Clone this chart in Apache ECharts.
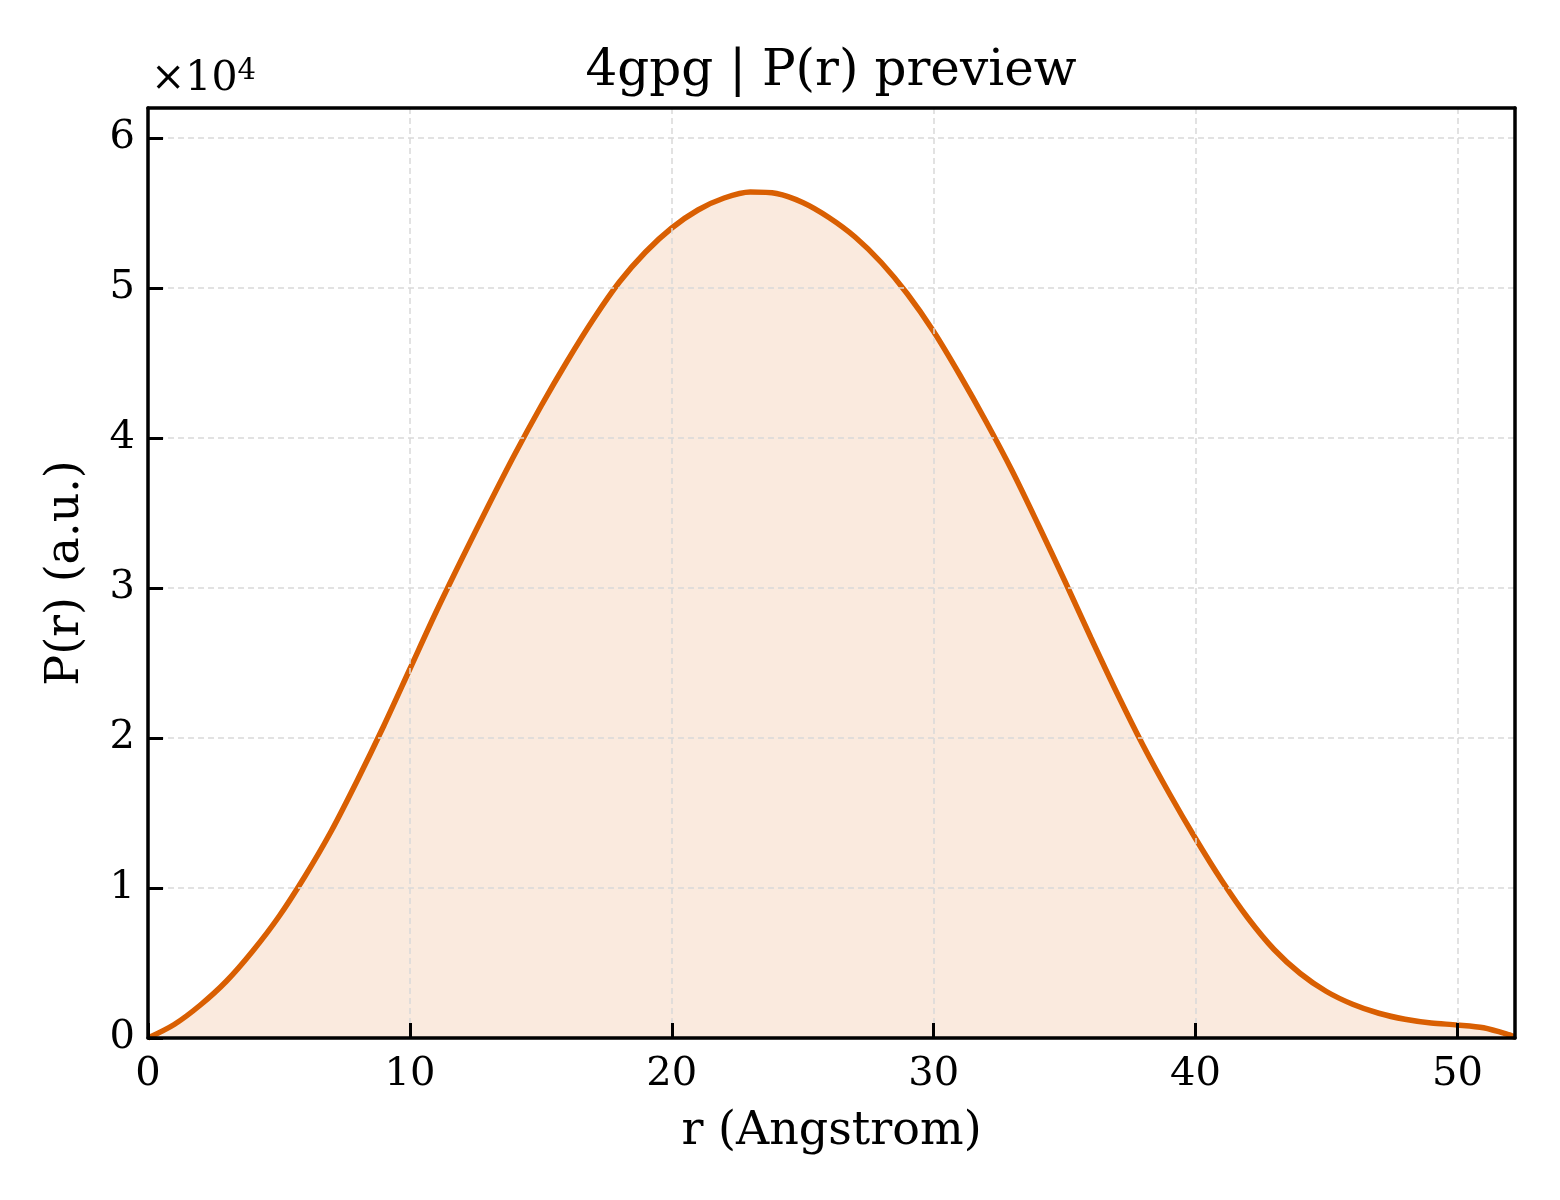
<!DOCTYPE html>
<html lang="en">
<head>
    <meta charset="UTF-8">
    <title>4gpg | P(r) preview</title>
    <style>
        body { margin: 0; padding: 0; background: #fff; }
        #chart { width: 1560px; height: 1200px; }
    </style>
    <script src="https://cdn.jsdelivr.net/npm/echarts@6/dist/echarts.min.js"></script>
</head>
<body>
    <div id="chart"></div>
    <script>
        // r in Angstrom
        const rValues = [
            0, 1, 2, 3, 4, 5, 6, 7, 8, 9,
            10, 11, 12, 13, 14, 15, 16, 17, 18, 19,
            20, 21, 22, 23, 24, 25, 26, 27, 28, 29,
            30, 31, 32, 33, 34, 35, 36, 37, 38, 39,
            40, 41, 42, 43, 44, 45, 46, 47, 48, 49,
            50, 51, 52, 52.2
        ];
        // P(r), arbitrary units
        const pValues = [
            0, 900, 2200, 3800, 5800, 8100, 10800, 13800, 17200, 20800,
            24600, 28400, 32000, 35500, 38900, 42100, 45100, 47900, 50400, 52400,
            54000, 55200, 56000, 56400, 56300, 55700, 54700, 53400, 51700, 49600,
            47100, 44200, 41100, 37800, 34200, 30500, 26700, 23000, 19500, 16300,
            13300, 10500, 8000, 5900, 4300, 3100, 2250, 1650, 1250, 1000,
            870, 680, 200, 50
        ];
        const xTicks = [0, 10, 20, 30, 40, 50];
        const yTicks = [0, 10000, 20000, 30000, 40000, 50000, 60000];

        const serif = '"DejaVu Serif", serif';
        const lineColor = '#d95f02';
        const gridDash = { color: '#d9d9d9', width: 1.5, type: [6, 4] };
        const frame = { show: true, onZero: false, lineStyle: { color: '#000', width: 3.5 } };
        const tickStyle = { show: true, inside: true, length: 15, lineStyle: { color: '#000', width: 3 } };

        const chart = echarts.init(document.getElementById('chart'));

        const points = rValues.map((r, i) => [r, pValues[i]]);

        const option = {
            backgroundColor: '#fff',
            animation: false,
            title: [
                {
                    text: '4gpg | P(r) preview',
                    left: 831,
                    textAlign: 'center',
                    top: 47,
                    padding: 0,
                    textStyle: { fontFamily: serif, fontSize: 50, fontWeight: 'normal', color: '#000' }
                },
                {
                    text: '{a|×10}{b|4}',
                    left: 151,
                    top: 57,
                    padding: 0,
                    textStyle: {
                        fontWeight: 'normal',
                        rich: {
                            a: { fontFamily: serif, fontSize: 41, fontWeight: 'normal', color: '#000', lineHeight: 44 },
                            b: { fontFamily: serif, fontSize: 29, fontWeight: 'normal', color: '#000', verticalAlign: 'top', lineHeight: 29 }
                        }
                    }
                }
            ],
            grid: {
                left: 148,
                right: 45,
                top: 108,
                bottom: 162,
                show: false
            },
            xAxis: [
                {
                    type: 'value',
                    position: 'bottom',
                    min: 0,
                    max: 52.2,
                    interval: 10,
                    name: 'r (Angstrom)',
                    nameLocation: 'middle',
                    nameGap: 71,
                    nameTextStyle: { fontFamily: serif, fontSize: 46, color: '#000' },
                    axisLine: frame,
                    axisTick: tickStyle,
                    axisLabel: {
                        showMaxLabel: false,
                        margin: 17,
                        fontFamily: serif,
                        fontSize: 40,
                        color: '#000',
                        formatter: v => xTicks.includes(v) ? String(v) : ''
                    },
                    splitLine: { show: true, showMinLine: false, showMaxLine: false, lineStyle: gridDash },
                    z: 5
                },
                {
                    type: 'value',
                    position: 'top',
                    min: 0,
                    max: 52.2,
                    axisLine: frame,
                    axisTick: { show: false },
                    axisLabel: { show: false },
                    splitLine: { show: false },
                    z: 5
                }
            ],
            yAxis: [
                {
                    type: 'value',
                    position: 'left',
                    min: 0,
                    max: 62000,
                    interval: 10000,
                    name: 'P(r) (a.u.)',
                    nameLocation: 'middle',
                    nameGap: 59,
                    nameRotate: 90,
                    nameTextStyle: { fontFamily: serif, fontSize: 46, color: '#000' },
                    axisLine: frame,
                    axisTick: tickStyle,
                    axisLabel: {
                        showMaxLabel: false,
                        margin: 13,
                        fontFamily: serif,
                        fontSize: 40,
                        color: '#000',
                        formatter: v => yTicks.includes(v) ? String(v / 10000) : ''
                    },
                    splitLine: { show: true, showMinLine: false, showMaxLine: false, lineStyle: gridDash },
                    z: 5
                },
                {
                    type: 'value',
                    position: 'right',
                    min: 0,
                    max: 62000,
                    axisLine: frame,
                    axisTick: { show: false },
                    axisLabel: { show: false },
                    splitLine: { show: false },
                    z: 5
                }
            ],
            series: [
                {
                    type: 'line',
                    xAxisIndex: 0,
                    yAxisIndex: 0,
                    data: points,
                    showSymbol: false,
                    smooth: 0.3,
                    lineStyle: { color: lineColor, width: 5.5 },
                    itemStyle: { color: lineColor },
                    areaStyle: { color: 'rgba(217, 95, 2, 0.13)', opacity: 1, origin: 'start' },
                    z: 3
                }
            ]
        };

        chart.setOption(option);
        window.addEventListener('resize', () => chart.resize());
    </script>
</body>
</html>
